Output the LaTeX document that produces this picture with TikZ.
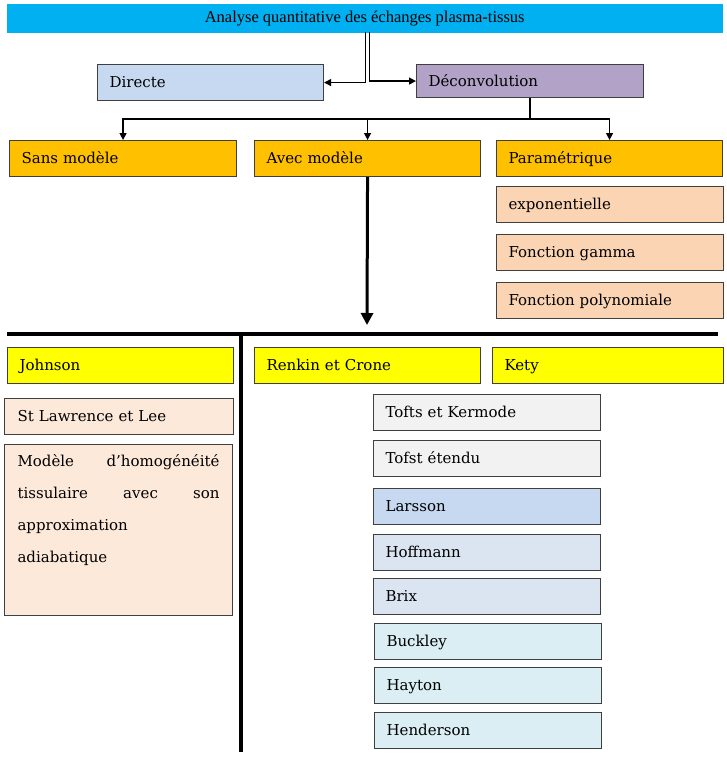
\documentclass[tikz,border=0pt]{standalone}
\usepackage{fontspec}
\setmainfont{DejaVu Serif}
\newfontfamily\titlefont{Liberation Serif}
\usetikzlibrary{arrows.meta}
\definecolor{cTitle}{HTML}{00B0F0}
\definecolor{cDir}{HTML}{C6D9F1}
\definecolor{cDec}{HTML}{B2A2C7}
\definecolor{cOr}{HTML}{FFC000}
\definecolor{cPeach}{HTML}{FBD4B4}
\definecolor{cLPeach}{HTML}{FDE9D9}
\definecolor{cYel}{HTML}{FFFF00}
\definecolor{cGray}{HTML}{F2F2F2}
\definecolor{cBlue}{HTML}{C6D9F1}
\definecolor{cLBlue}{HTML}{DBE5F1}
\definecolor{cAqua}{HTML}{DAEEF3}
\definecolor{cBorder}{HTML}{3F3F3F}
\tikzset{
  bx/.style={draw=cBorder, line width=1.1pt, rectangle, anchor=north west,
    minimum height=36pt, inner xsep=12pt, inner ysep=0pt, text width=203pt,
    text height=13pt, text depth=3pt,
    align=left, font=\fontsize{15}{18}\selectfont},
  conn/.style={line width=1.3pt, -{Triangle[length=7pt,width=7pt]}},
  thickln/.style={line width=4pt},
}
\begin{document}
\begin{tikzpicture}[x=1pt,y=-1pt]
\useasboundingbox (0,0) rectangle (727,769);
% title
\node[draw=cTitle, fill=cTitle, rectangle, anchor=north west, minimum width=715pt,
  minimum height=28pt, inner sep=0pt, text height=12pt, text depth=3pt,
  font=\titlefont\fontsize{16.5}{18}\selectfont]
  (title) at (7,4) {Analyse quantitative des échanges plasma-tissus};
% level 1
\node[bx, fill=cDir, text width=202pt] (dir) at (97,64) {Directe};
\node[bx, fill=cDec, minimum height=33pt] (dec) at (416,64) {Déconvolution};
% level 2
\node[bx, fill=cOr] (sans) at (9,140) {Sans modèle};
\node[bx, fill=cOr, text width=202pt] (avec) at (254,140) {Avec modèle};
\node[bx, fill=cOr, text width=202pt] (param) at (496,140) {Paramétrique};
\node[bx, fill=cPeach, text width=203pt] (expo) at (496,186) {exponentielle};
\node[bx, fill=cPeach, text width=203pt] (gamma) at (496,234) {Fonction gamma};
\node[bx, fill=cPeach, text width=203pt] (poly) at (496,282) {Fonction polynomiale};
% level 3
\node[bx, fill=cYel, text width=202pt] (john) at (7,347) {Johnson};
\node[bx, fill=cYel, text width=202pt] (renk) at (254,347) {Renkin et Crone};
\node[bx, fill=cYel, text width=207pt] (kety) at (492,347) {Kety};
\node[bx, fill=cLPeach, text width=203pt, inner xsep=13pt] (stl) at (4,398) {St Lawrence et Lee};
\node[draw=cBorder, line width=1.1pt, rectangle, fill=cLPeach, anchor=north west,
  minimum width=227pt, minimum height=171pt, inner xsep=13pt, inner ysep=0pt,
  font=\fontsize{15}{18}\selectfont] (homo) at (4,444)
  {\parbox[t][171pt][t]{202pt}{\vspace*{10pt}\baselineskip=32pt
   Modèle\hfill d’homogénéité\\
   tissulaire\hfill avec\hfill son\\
   approximation\\
   adiabatique}};
% right column list
\node[bx, fill=cGray] (tofts) at (373,394) {Tofts et Kermode};
\node[bx, fill=cGray] (etendu) at (373,440) {Tofst étendu};
\node[bx, fill=cBlue] (lars) at (373,488) {Larsson};
\node[bx, fill=cLBlue] (hoff) at (373,534) {Hoffmann};
\node[bx, fill=cLBlue] (brix) at (373,578) {Brix};
\node[bx, fill=cAqua] (buck) at (374,623) {Buckley};
\node[bx, fill=cAqua] (hay) at (374,667) {Hayton};
\node[bx, fill=cAqua] (hend) at (374,712) {Henderson};
% connectors
\draw[conn] ([xshift=0.5pt]title.south) |- (dir.east);
\draw[conn] ([xshift=4.5pt]title.south) |- (dec.west);
\draw[line width=1.3pt] (dec.south) -- ++(0,21) coordinate (hub);
\draw[conn] (hub) -| (sans.north);
\draw[conn] (hub) -| (avec.north);
\draw[conn] (hub) -| (param.north);
\coordinate (arrtip) at (367,325);
\draw[line width=3pt, -{Triangle[length=12pt,width=12pt]}] (avec.south) -- (arrtip);
\coordinate (hl) at (7,334);
\coordinate (hr) at (718,334);
\coordinate (vt) at (241,334);
\coordinate (vb) at (241,752);
\draw[thickln] (hl) -- (hr);
\draw[thickln] (vt) -- (vb);
\end{tikzpicture}
\end{document}
